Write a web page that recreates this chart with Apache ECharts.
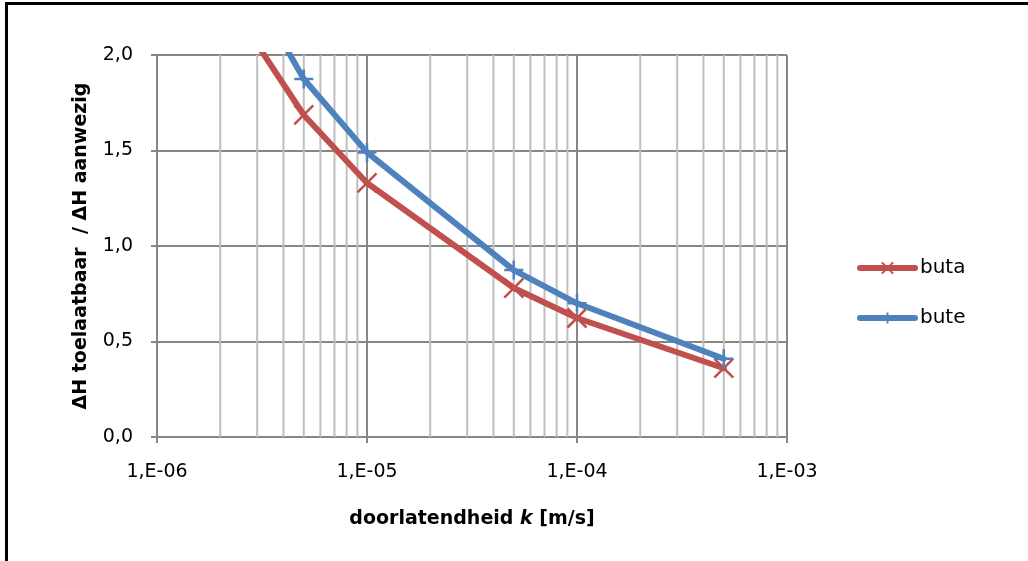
<!DOCTYPE html>
<html><head><meta charset="utf-8">
<script src="https://cdn.jsdelivr.net/npm/echarts@6/dist/echarts.min.js"></script>
<style>html,body{margin:0;padding:0;background:#fff}#c{width:1028px;height:561px}</style>
</head><body><div id="c"></div>
<script>
// permeability k [m/s]
const kValues = [1e-6, 5e-6, 1e-5, 5e-5, 1e-4, 5e-4];
// dH toelaatbaar / dH aanwezig
const buta = [2.85, 1.686, 1.33, 0.78, 0.623, 0.36];
const bute = [3.23, 1.874, 1.49, 0.874, 0.70, 0.41];
const seriesNames = ['buta', 'bute'];
const xTickLabels = {'-6': '1,E-06', '-5': '1,E-05', '-4': '1,E-04', '-3': '1,E-03'};
const yTickLabels = {'0': '0,0', '0.5': '0,5', '1': '1,0', '1.5': '1,5', '2': '2,0'};
const minorGridK = [2e-6, 3e-6, 4e-6, 5e-6, 6e-6, 7e-6, 8e-6, 9e-6,
                    2e-5, 3e-5, 4e-5, 5e-5, 6e-5, 7e-5, 8e-5, 9e-5,
                    2e-4, 3e-4, 4e-4, 5e-4, 6e-4, 7e-4, 8e-4, 9e-4];

const FONT = 'DejaVu Sans';
const RED = '#C0504D', BLUE = '#4F81BD';
const MAJOR = '#878787', MINOR = '#BFBFBF';
const Y_MIN = 0, Y_MAX = 2;

const chart = echarts.init(document.getElementById('c'));
const pairs = arr => kValues.map((k, i) => [k, arr[i]]);

chart.setOption({
  animation: false,
  backgroundColor: '#fff',
  textStyle: {fontFamily: FONT},
  graphic: [
    {type: 'rect', shape: {x: 5, y: 2, width: 1023, height: 3}, style: {fill: '#000'}, silent: true},
    {type: 'rect', shape: {x: 5, y: 2, width: 3, height: 559}, style: {fill: '#000'}, silent: true}
  ],
  grid: {left: 157, right: 241, top: 55, bottom: 124, containLabel: false},
  legend: {
    data: seriesNames,
    orient: 'vertical',
    left: 852, top: 253,
    itemWidth: 55, itemHeight: 14, itemGap: 30,
    lineStyle: {width: 6, cap: 'round'},
    textStyle: {fontFamily: FONT, fontSize: 20, color: '#000'},
    selectedMode: false
  },
  xAxis: {
    type: 'log', logBase: 10, min: 1e-6, max: 1e-3,
    name: '{b|doorlatendheid }{i|k}{b| [m/s]}',
    nameLocation: 'middle', nameGap: 73,
    nameTextStyle: {
      fontFamily: FONT, fontSize: 19, color: '#000',
      rich: {
        b: {fontFamily: FONT, fontSize: 19, fontWeight: 'bold', color: '#000'},
        i: {fontFamily: FONT, fontSize: 19, fontWeight: 'bold', fontStyle: 'italic', color: '#000'}
      }
    },
    axisLine: {show: true, lineStyle: {color: MAJOR, width: 2}},
    axisTick: {show: true, inside: false, length: 6, lineStyle: {color: MAJOR, width: 2}},
    axisLabel: {
      fontFamily: FONT, fontSize: 19, color: '#000', margin: 26,
      formatter: v => xTickLabels[String(Math.round(Math.log10(v)))] || ''
    },
    splitLine: {show: true, lineStyle: {color: MAJOR, width: 2}},
    minorTick: {show: false}, minorSplitLine: {show: false}
  },
  yAxis: {
    type: 'value', min: Y_MIN, max: Y_MAX, interval: 0.5,
    name: 'ΔH toelaatbaar  / ΔH aanwezig',
    nameLocation: 'middle', nameGap: 66, nameRotate: 90,
    nameTextStyle: {fontFamily: FONT, fontSize: 19, fontWeight: 'bold', color: '#000'},
    axisLine: {show: true, lineStyle: {color: MAJOR, width: 2}},
    axisTick: {show: true, inside: false, length: 6, lineStyle: {color: MAJOR, width: 2}},
    axisLabel: {
      fontFamily: FONT, fontSize: 19, color: '#000', margin: 24,
      formatter: v => yTickLabels[String(Math.round(v * 10) / 10)] || ''
    },
    splitLine: {show: true, lineStyle: {color: MAJOR, width: 2}}
  },
  series: [
    {
      name: '_minorgrid', type: 'custom', z: 1, silent: true,
      data: minorGridK.map(v => [v, Y_MIN]),
      encode: {x: 0, y: 1},
      clip: false,
      renderItem: (params, api) => {
        const k = api.value(0);
        const p1 = api.coord([k, Y_MIN]);
        const p2 = api.coord([k, Y_MAX]);
        return {
          type: 'line',
          shape: {x1: p1[0], y1: p1[1], x2: p2[0], y2: p2[1]},
          style: {stroke: MINOR, lineWidth: 2}
        };
      },
      tooltip: {show: false}
    },
    {
      name: seriesNames[0], type: 'line', data: pairs(buta), z: 3, clip: true,
      symbol: 'path://M0,0L20,20M20,0L0,20', symbolSize: 19,
      lineStyle: {color: RED, width: 6, cap: 'round', join: 'round'},
      itemStyle: {color: 'rgba(0,0,0,0)', borderColor: RED, borderWidth: 2.5},
      emphasis: {disabled: true}
    },
    {
      name: seriesNames[1], type: 'line', data: pairs(bute), z: 4, clip: true,
      symbol: 'path://M10,0L10,20M0,10L20,10', symbolSize: 19,
      lineStyle: {color: BLUE, width: 6, cap: 'round', join: 'round'},
      itemStyle: {color: 'rgba(0,0,0,0)', borderColor: BLUE, borderWidth: 2.5},
      emphasis: {disabled: true}
    }
  ]
});
</script>
</body></html>
